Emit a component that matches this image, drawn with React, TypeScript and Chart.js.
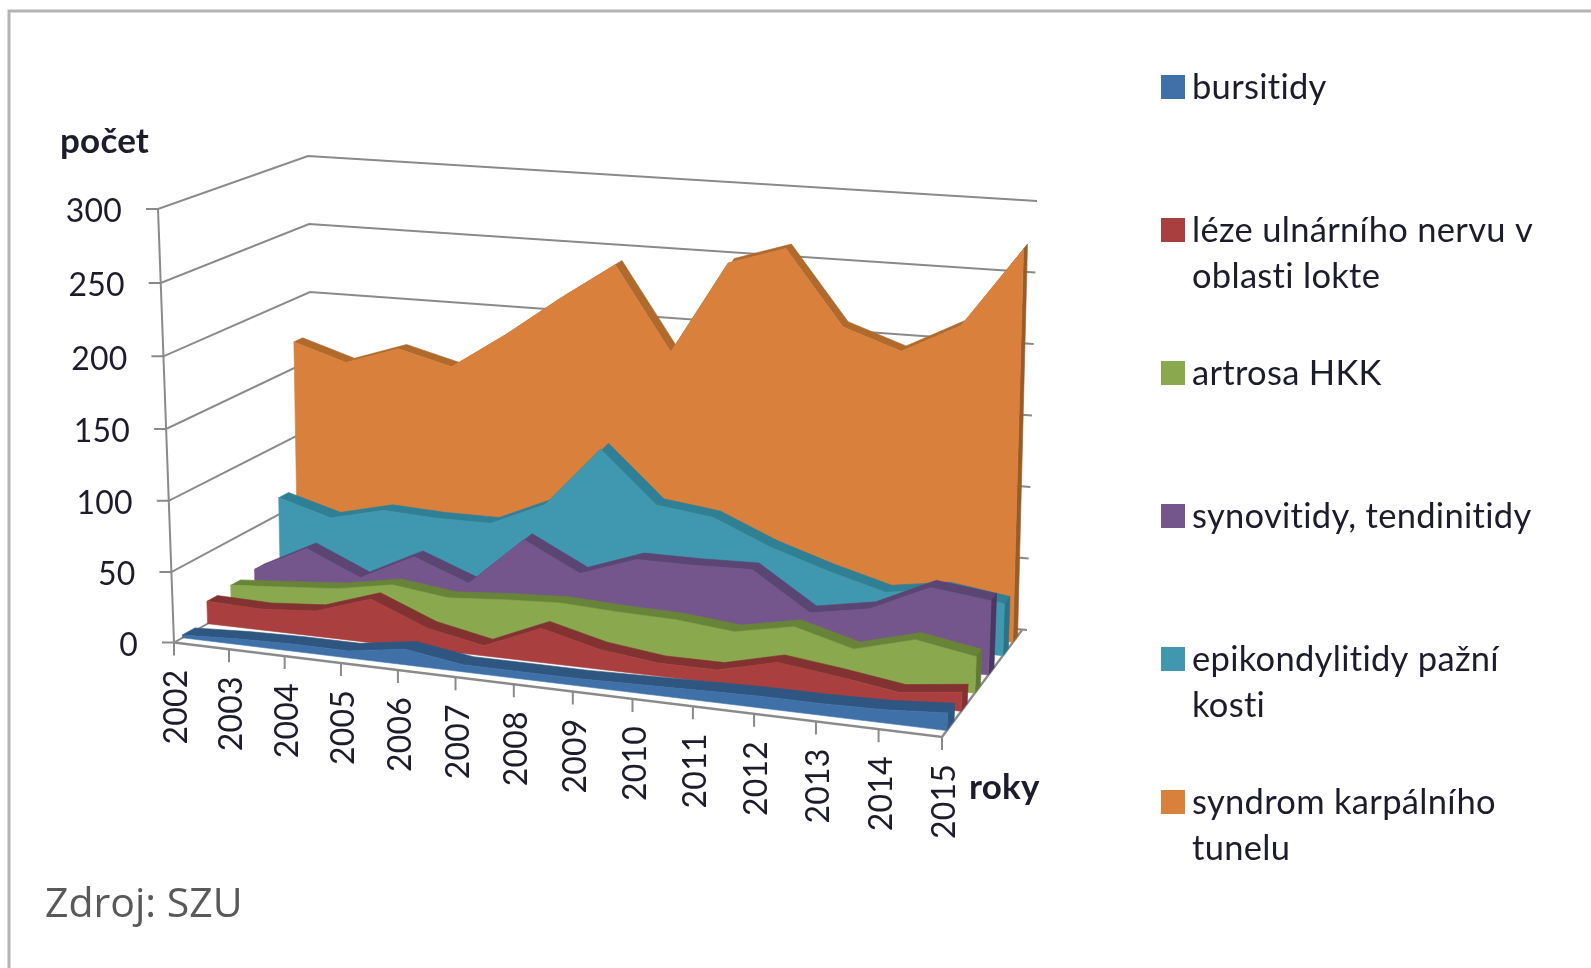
import React, { useEffect, useRef } from "react";
import { Chart, registerables } from "chart.js";

Chart.register(...registerables);

const years = ["2002","2003","2004","2005","2006","2007","2008","2009","2010","2011","2012","2013","2014","2015"];
const yTicks = [0, 50, 100, 150, 200, 250, 300];

const bursitidy = [2, 4, 5, 5, 11, 5, 5, 5, 6, 7, 8, 8, 9, 12];
const lezeUlnar = [16, 15, 18, 31, 15, 7, 24, 14, 9, 9, 19, 14, 8, 13];
const artrosa = [18, 21, 24, 31, 26, 29, 31, 29, 28, 24, 32, 21, 32, 25];
const synovitidy = [20, 39, 22, 41, 26, 61, 41, 55, 55, 56, 30, 37, 56, 51];
const epikondylitidy = [62, 51, 60, 58, 58, 75, 118, 82, 77, 60, 47, 36, 42, 36];
const karpal = [169, 157, 170, 160, 186, 215, 242, 183, 249, 262, 210, 196, 217, 273];

const seriesNames = [
  ["bursitidy"],
  ["léze ulnárního nervu v", "oblasti lokte"],
  ["artrosa HKK"],
  ["synovitidy, tendinitidy"],
  ["epikondylitidy pažní", "kosti"],
  ["syndrom karpálního", "tunelu"],
];
const seriesValues = [bursitidy, lezeUlnar, artrosa, synovitidy, epikondylitidy, karpal];
const faceColors = ["#3F70A8", "#A9403F", "#8AA84E", "#74568C", "#3F97B0", "#D9803C"];
const bandColors = ["#2F5680", "#823331", "#688438", "#5B4573", "#2F7F95", "#B06A2C"];
const sideColors = ["#2F5680", "#823331", "#5F7A33", "#4A3860", "#2A7388", "#9A5C26"];
const depths = [0.06, 0.24, 0.41, 0.58, 0.76, 0.885];
const thickness = [0.09, 0.075, 0.07, 0.07, 0.07, 0.06];

const W = 1591;
const H = 968;
type P = { x: number; y: number };
const FL0 = { x: 174, y: 642.5 }, FL3 = { x: 158, y: 209 };
const BL0 = { x: 314, y: 564 }, BL3 = { x: 308, y: 156 };
const FR0 = { x: 942, y: 737 }, FR3 = { x: 968, y: 281 };
const BR0 = { x: 1022, y: 630 }, BR3 = { x: 1032, y: 201 };
const K = 1.08;
const KV = 0.03;
const mix = (a: P, b: P, u: number): P => ({ x: a.x + (b.x - a.x) * u, y: a.y + (b.y - a.y) * u });
function project(t: number, d: number, v: number): P {
  const r = t / (years.length - 1);
  const s = r / (r + K * (1 - r));
  const q = v / 300;
  const u = q / (q + (1 + KV * (1 - d)) * (1 - q));
  const f = mix(mix(FL0, FL3, u), mix(FR0, FR3, u), s);
  const b = mix(mix(BL0, BL3, u), mix(BR0, BR3, u), s);
  return mix(f, b, d);
}

const GRID = "#8a8a8a";
const polyDs = (data: P[], color: string, label = "") => ({
  label, data, polygon: true, backgroundColor: color, borderColor: color,
  showLine: false, pointRadius: 0, clip: false,
});
const lineDs = (data: P[], width = 2) => ({
  label: "", data, borderColor: GRID, borderWidth: width, showLine: true, pointRadius: 0, fill: false, clip: false,
});

function buildDatasets() {
  const out: any[] = [];
  yTicks.forEach((v) => {
    const end = project(13, 1, v);
    out.push(lineDs([
      { x: project(0, 0, v).x - 12, y: project(0, 0, v).y },
      project(0, 0, v), project(0, 1, v), { x: end.x + 5, y: end.y },
    ]));
  });
  out.push(lineDs([project(0, 0, 0), project(0, 0, 300)]));
  out.push(lineDs([project(0, 0, 0), project(13, 0, 0), project(13, 1, 0)], 2.4));
  years.forEach((_, t) => {
    const p = project(t, 0, 0);
    out.push(lineDs([p, { x: p.x, y: p.y + 13 }]));
  });
  for (let i = seriesValues.length - 1; i >= 0; i--) {
    const vals = seriesValues[i];
    const d = depths[i];
    const th = thickness[i];
    const front = vals.map((v, t) => project(t, d, v));
    const back = vals.map((v, t) => project(t, d + th, v));
    const last = vals.length - 1;
    out.push(polyDs([...back, ...front.slice().reverse()], bandColors[i]));
    out.push(polyDs([project(last, d, 0), project(last, d + th, 0), back[last], front[last]], sideColors[i]));
    out.push(polyDs([...front, project(last, d, 0), project(0, d, 0)], faceColors[i], seriesNames[i].join(" ")));
  }
  out.forEach((ds, i) => { ds.order = out.length - i; });
  return out;
}

const polygonPlugin = {
  id: "polygonFaces",
  beforeDatasetDraw(chart: any, args: any) {
    const ds = chart.data.datasets[args.index];
    if (!ds.polygon) return;
    const pts = args.meta.data;
    const ctx = chart.ctx;
    ctx.save();
    ctx.beginPath();
    pts.forEach((p: any, i: number) => (i ? ctx.lineTo(p.x, p.y) : ctx.moveTo(p.x, p.y)));
    ctx.closePath();
    ctx.fillStyle = ds.backgroundColor;
    ctx.strokeStyle = ds.backgroundColor;
    ctx.lineWidth = 0.6;
    ctx.lineJoin = "round";
    ctx.fill();
    ctx.stroke();
    ctx.restore();
  },
};

const textPlugin = {
  id: "labels3d",
  beforeDatasetsDraw(chart: any) {
    const ctx = chart.ctx;
    ctx.save();
    ctx.strokeStyle = "#b4b4b4";
    ctx.lineWidth = 3;
    ctx.beginPath();
    ctx.moveTo(9, H);
    ctx.lineTo(9, 11);
    ctx.lineTo(W, 11);
    ctx.stroke();
    ctx.restore();
  },
  afterDatasetsDraw(chart: any) {
    const ctx = chart.ctx;
    ctx.save();
    ctx.fillStyle = "#1c1c2a";
    ctx.textBaseline = "middle";
    (ctx as any).letterSpacing = "0.2px";
    ctx.font = "32px Lato";
    ctx.textAlign = "right";
    yTicks.forEach((v) => {
      const p = project(0, 0, v);
      ctx.fillText(String(v), p.x - 36, p.y + 3);
    });
    years.forEach((y, t) => {
      const p = project(t, 0, 0);
      ctx.save();
      ctx.translate(p.x + 3, p.y + 27);
      ctx.rotate(-Math.PI / 2);
      ctx.textAlign = "right";
      ctx.fillText(y, 0, 0);
      ctx.restore();
    });
    ctx.font = "bold 35px Lato";
    ctx.textAlign = "left";
    ctx.fillText("počet", 60, 142);
    ctx.fillText("roky", 969, 788);
    ctx.font = "41px 'Open Sans'";
    ctx.fillStyle = "#595959";
    (ctx as any).letterSpacing = "0px";
    ctx.fillText("Zdroj: SZU", 45, 905);
    (ctx as any).letterSpacing = "0.3px";
    ctx.font = "34.5px Lato";
    seriesNames.forEach((lines, i) => {
      const cy = 87 + i * 143;
      ctx.fillStyle = faceColors[i];
      ctx.fillRect(1161, cy - 12, 24, 24);
      ctx.fillStyle = "#1c1c2a";
      lines.forEach((ln, j) => ctx.fillText(ln, 1192, cy + 1 + j * 46));
    });
    ctx.restore();
  },
};

export default function App() {
  const ref = useRef<HTMLCanvasElement>(null);
  useEffect(() => {
    const chart = new Chart(ref.current!, {
      type: "scatter",
      data: { datasets: buildDatasets() },
      options: {
        animation: false,
        responsive: false,
        layout: { padding: 0 },
        plugins: { legend: { display: false }, tooltip: { enabled: false } },
        scales: {
          x: { type: "linear", min: 0, max: W, display: false },
          y: { type: "linear", min: 0, max: H, reverse: true, display: false },
        },
      },
      plugins: [polygonPlugin, textPlugin],
    } as any);
    return () => chart.destroy();
  }, []);
  return (
    <div style={{ position: "fixed", left: 0, top: 0, width: W, height: H, background: "#fff", overflow: "hidden" }}>
      <canvas ref={ref} width={W} height={H} style={{ display: "block", filter: "blur(0.7px)" }} />
    </div>
  );
}
